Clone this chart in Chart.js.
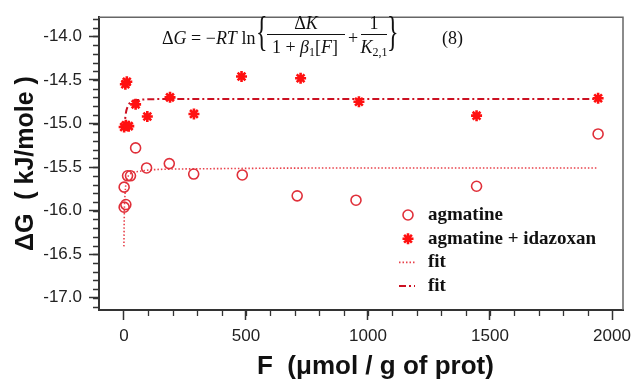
<!DOCTYPE html>
<html>
<head>
<meta charset="utf-8">
<script src="https://cdn.jsdelivr.net/npm/chart.js@4.4.0/dist/chart.umd.min.js"></script>
<style>
  html, body { margin: 0; padding: 0; background: #fff; }
  #wrap { width: 632px; height: 386px; }
</style>
</head>
<body>
<div id="wrap"><canvas id="chart" width="632" height="386"></canvas></div>
<script>
'use strict';

// agmatine (open circles)
var agmF  = [1, 8, 1, 15, 27, 48, 93, 186, 286, 485, 710, 951, 1445, 1943];
var agmDG = [-15.96, -15.93, -15.73, -15.60, -15.60, -15.28, -15.51, -15.46, -15.58, -15.59, -15.83, -15.88, -15.72, -15.12];

// agmatine + idazoxan (stars)
var idzF  = [1, 8, 20, 6, 12, 48, 96, 189, 287, 482, 724, 963, 1445, 1943];
var idzDG = [-15.04, -15.02, -15.03, -14.55, -14.52, -14.78, -14.92, -14.70, -14.89, -14.46, -14.48, -14.75, -14.91, -14.71];

// fit curves
var fit1F  = [0, 2, 5, 8, 15, 30, 60, 120, 300, 1000, 1940];
var fit1DG = [-16.41, -16.00, -15.80, -15.70, -15.62, -15.57, -15.55, -15.53, -15.52, -15.51, -15.51];
var fit2F  = [0, 2, 4, 8, 15, 30, 60, 150, 500, 1950];
var fit2DG = [-15.06, -15.03, -14.98, -14.88, -14.81, -14.75, -14.73, -14.72, -14.72, -14.72];

var xTicks = [0, 500, 1000, 1500, 2000];
var yTicks = [-17.0, -16.5, -16.0, -15.5, -15.0, -14.5, -14.0];
var seriesLabels = ['agmatine', 'agmatine + idazoxan', 'fit', 'fit'];

function toPoints(xs, ys) {
    var pts = [];
    for (var i = 0; i < xs.length; i++) pts.push({x: xs[i], y: ys[i]});
    return pts;
}

var AXIS = '#333';
var SANS = '"Liberation Sans", Arial, sans-serif';
var SERIF = '"Liberation Serif", "Times New Roman", serif';

// frame (top/right) and minor ticks
var framePlugin = {
    id: 'frame',
    beforeDatasetsDraw: function (chart) {
        var ctx = chart.ctx, a = chart.chartArea;
        var xs = chart.scales.x, ys = chart.scales.y;
        ctx.save();
        ctx.strokeStyle = '#666';
        ctx.lineWidth = 1.5;
        ctx.beginPath();
        ctx.moveTo(a.left, a.top);
        ctx.lineTo(a.right, a.top);
        ctx.lineTo(a.right, a.bottom);
        ctx.stroke();

        ctx.strokeStyle = AXIS;
        ctx.lineWidth = 1.3;
        ctx.beginPath();
        for (var v = -17.1; v <= -13.79; v += 0.1) {
            var py = Math.round(ys.getPixelForValue(v)) + 0.5;
            ctx.moveTo(a.left - 6, py);
            ctx.lineTo(a.left, py);
        }
        for (var f = 100; f < 2000; f += 100) {
            var px = Math.round(xs.getPixelForValue(f)) + 0.5;
            ctx.moveTo(px, a.bottom);
            ctx.lineTo(px, a.bottom + 6);
        }
        ctx.stroke();
        ctx.restore();
    }
};

// draw a run of math pieces, returns the end x
function mathRun(ctx, parts, x, y, draw) {
    parts.forEach(function (p) {
        ctx.font = (p.it ? 'italic ' : '') + (p.size || 18) + 'px ' + SERIF;
        if (draw) ctx.fillText(p.t, x, y + (p.dy || 0));
        x += ctx.measureText(p.t).width;
    });
    return x;
}
function mathCentered(ctx, parts, cx, y) {
    var w = mathRun(ctx, parts, 0, 0, false);
    mathRun(ctx, parts, cx - w / 2, y, true);
}
function brace(ctx, ch, x) {
    ctx.save();
    ctx.translate(x, 34);
    ctx.scale(1, 1.75);
    ctx.font = '24px ' + SERIF;
    ctx.textBaseline = 'alphabetic';
    ctx.fillText(ch, 0, 6);
    ctx.restore();
}

var equationPlugin = {
    id: 'equation',
    afterDraw: function (chart) {
        var ctx = chart.ctx;
        ctx.save();
        ctx.fillStyle = '#111';
        ctx.textBaseline = 'alphabetic';
        ctx.textAlign = 'left';
        mathRun(ctx, [{t: 'Δ'}, {t: 'G', it: 1}, {t: ' = −'}, {t: 'RT', it: 1}, {t: ' ln'}], 162, 44, true);
        brace(ctx, '{', 256);
        mathCentered(ctx, [{t: 'Δ'}, {t: 'K', it: 1}], 306, 29);
        mathCentered(ctx, [{t: '1 + '}, {t: 'β', it: 1}, {t: '1', size: 12, dy: 3}, {t: '['}, {t: 'F', it: 1}, {t: ']'}], 305, 53);
        mathCentered(ctx, [{t: '+'}], 353, 44);
        mathCentered(ctx, [{t: '1'}], 374, 29);
        mathCentered(ctx, [{t: 'K', it: 1}, {t: '2,1', size: 12, dy: 3}], 374, 53);
        brace(ctx, '}', 387);
        ctx.strokeStyle = '#111';
        ctx.lineWidth = 1;
        ctx.beginPath();
        ctx.moveTo(267, 34.5); ctx.lineTo(345, 34.5);
        ctx.moveTo(361, 34.5); ctx.lineTo(387, 34.5);
        ctx.stroke();
        mathRun(ctx, [{t: '(8)', size: 18}], 442, 44, true);
        ctx.restore();
    }
};

// legend inside the plot, built from dataset styles
var legendPlugin = {
    id: 'innerLegend',
    afterDraw: function (chart) {
        var ctx = chart.ctx;
        var symX = 408, textX = 428, rowY = 215, gap = 23.7;
        ctx.save();
        chart.data.datasets.forEach(function (ds, i) {
            var y = rowY + i * gap;
            ctx.strokeStyle = ds.borderColor;
            ctx.fillStyle = ds.backgroundColor;
            if (ds.showLine) {
                ctx.lineWidth = ds.borderWidth;
                ctx.setLineDash(ds.borderDash || []);
                ctx.beginPath();
                ctx.moveTo(symX - 9, y);
                ctx.lineTo(symX + 7, y);
                ctx.stroke();
                ctx.setLineDash([]);
            } else {
                ctx.lineWidth = ds.pointBorderWidth;
                Chart.helpers.drawPoint(ctx, {
                    pointStyle: ds.pointStyle,
                    radius: ds.pointRadius,
                    borderWidth: ds.pointBorderWidth,
                    rotation: 0
                }, symX, y);
            }
            ctx.fillStyle = '#111';
            ctx.font = 'bold 19px ' + SERIF;
            ctx.textBaseline = 'middle';
            ctx.fillText(ds.label, textX, y);
        });
        ctx.restore();
    }
};

var datasets = [
    {
        label: seriesLabels[0],
        data: toPoints(agmF, agmDG),
        showLine: false,
        pointStyle: 'circle',
        pointRadius: 5,
        pointBorderWidth: 1.6,
        borderColor: '#e0303a',
        backgroundColor: 'rgba(255,255,255,0)',
        order: 1
    },
    {
        label: seriesLabels[1],
        data: toPoints(idzF, idzDG),
        showLine: false,
        pointStyle: 'star',
        pointRadius: 5.5,
        pointBorderWidth: 2.6,
        borderColor: '#ff1010',
        backgroundColor: '#ff1010',
        order: 0
    },
    {
        label: seriesLabels[2],
        data: toPoints(fit1F, fit1DG),
        showLine: true,
        borderColor: '#e8404a',
        backgroundColor: '#e8404a',
        borderWidth: 1.6,
        borderDash: [1.5, 2],
        pointRadius: 0,
        cubicInterpolationMode: 'monotone',
        order: 2
    },
    {
        label: seriesLabels[3],
        data: toPoints(fit2F, fit2DG),
        showLine: true,
        borderColor: '#cc1122',
        backgroundColor: '#cc1122',
        borderWidth: 2,
        borderDash: [7, 3, 2, 3],
        pointRadius: 0,
        cubicInterpolationMode: 'monotone',
        order: 2
    }
];

var config = {
    type: 'scatter',
    data: {datasets: datasets},
    options: {
        responsive: false,
        animation: false,
        layout: {padding: {top: 16, right: 9, left: 0, bottom: 0}},
        plugins: {
            legend: {display: false},
            tooltip: {enabled: false}
        },
        scales: {
            x: {
                type: 'linear',
                min: -102,
                max: 2045,
                afterBuildTicks: function (scale) {
                    scale.ticks = xTicks.map(function (v) { return {value: v}; });
                },
                afterFit: function (scale) {
                    scale.height = 76;
                    // the "2000" label may overhang, keep the plot width fixed
                    scale.paddingLeft = 0;
                    scale.paddingRight = 0;
                },
                ticks: {
                    font: {family: SANS, size: 17},
                    color: '#222',
                    padding: 6,
                    maxRotation: 0,
                    callback: function (v) { return String(v); }
                },
                grid: {drawOnChartArea: false, tickLength: 10, tickWidth: 1.5, tickColor: AXIS},
                border: {color: AXIS, width: 2},
                title: {
                    display: true,
                    // leading spaces push the centred title a bit right, as in the original
                    text: '    F  (μmol / g of prot)',
                    font: {family: SANS, size: 26, weight: 'bold'},
                    color: '#111',
                    padding: {top: 0, bottom: 4}
                }
            },
            y: {
                type: 'linear',
                min: -17.14,
                max: -13.78,
                afterBuildTicks: function (scale) {
                    scale.ticks = yTicks.map(function (v) { return {value: v}; });
                },
                afterFit: function (scale) { scale.width = 99; },
                ticks: {
                    font: {family: SANS, size: 17},
                    color: '#222',
                    padding: 7,
                    callback: function (v) { return v.toFixed(1); }
                },
                grid: {drawOnChartArea: false, tickLength: 10, tickWidth: 1.5, tickColor: AXIS},
                border: {color: AXIS, width: 2},
                title: {
                    display: true,
                    text: 'ΔG  ( kJ/mole )',
                    font: {family: SANS, size: 25, weight: 'bold'},
                    color: '#111',
                    padding: {top: 11, bottom: 0}
                }
            }
        }
    },
    plugins: [framePlugin, equationPlugin, legendPlugin]
};

var ctx = document.getElementById('chart').getContext('2d');
var chart = new Chart(ctx, config);
</script>
</body>
</html>
